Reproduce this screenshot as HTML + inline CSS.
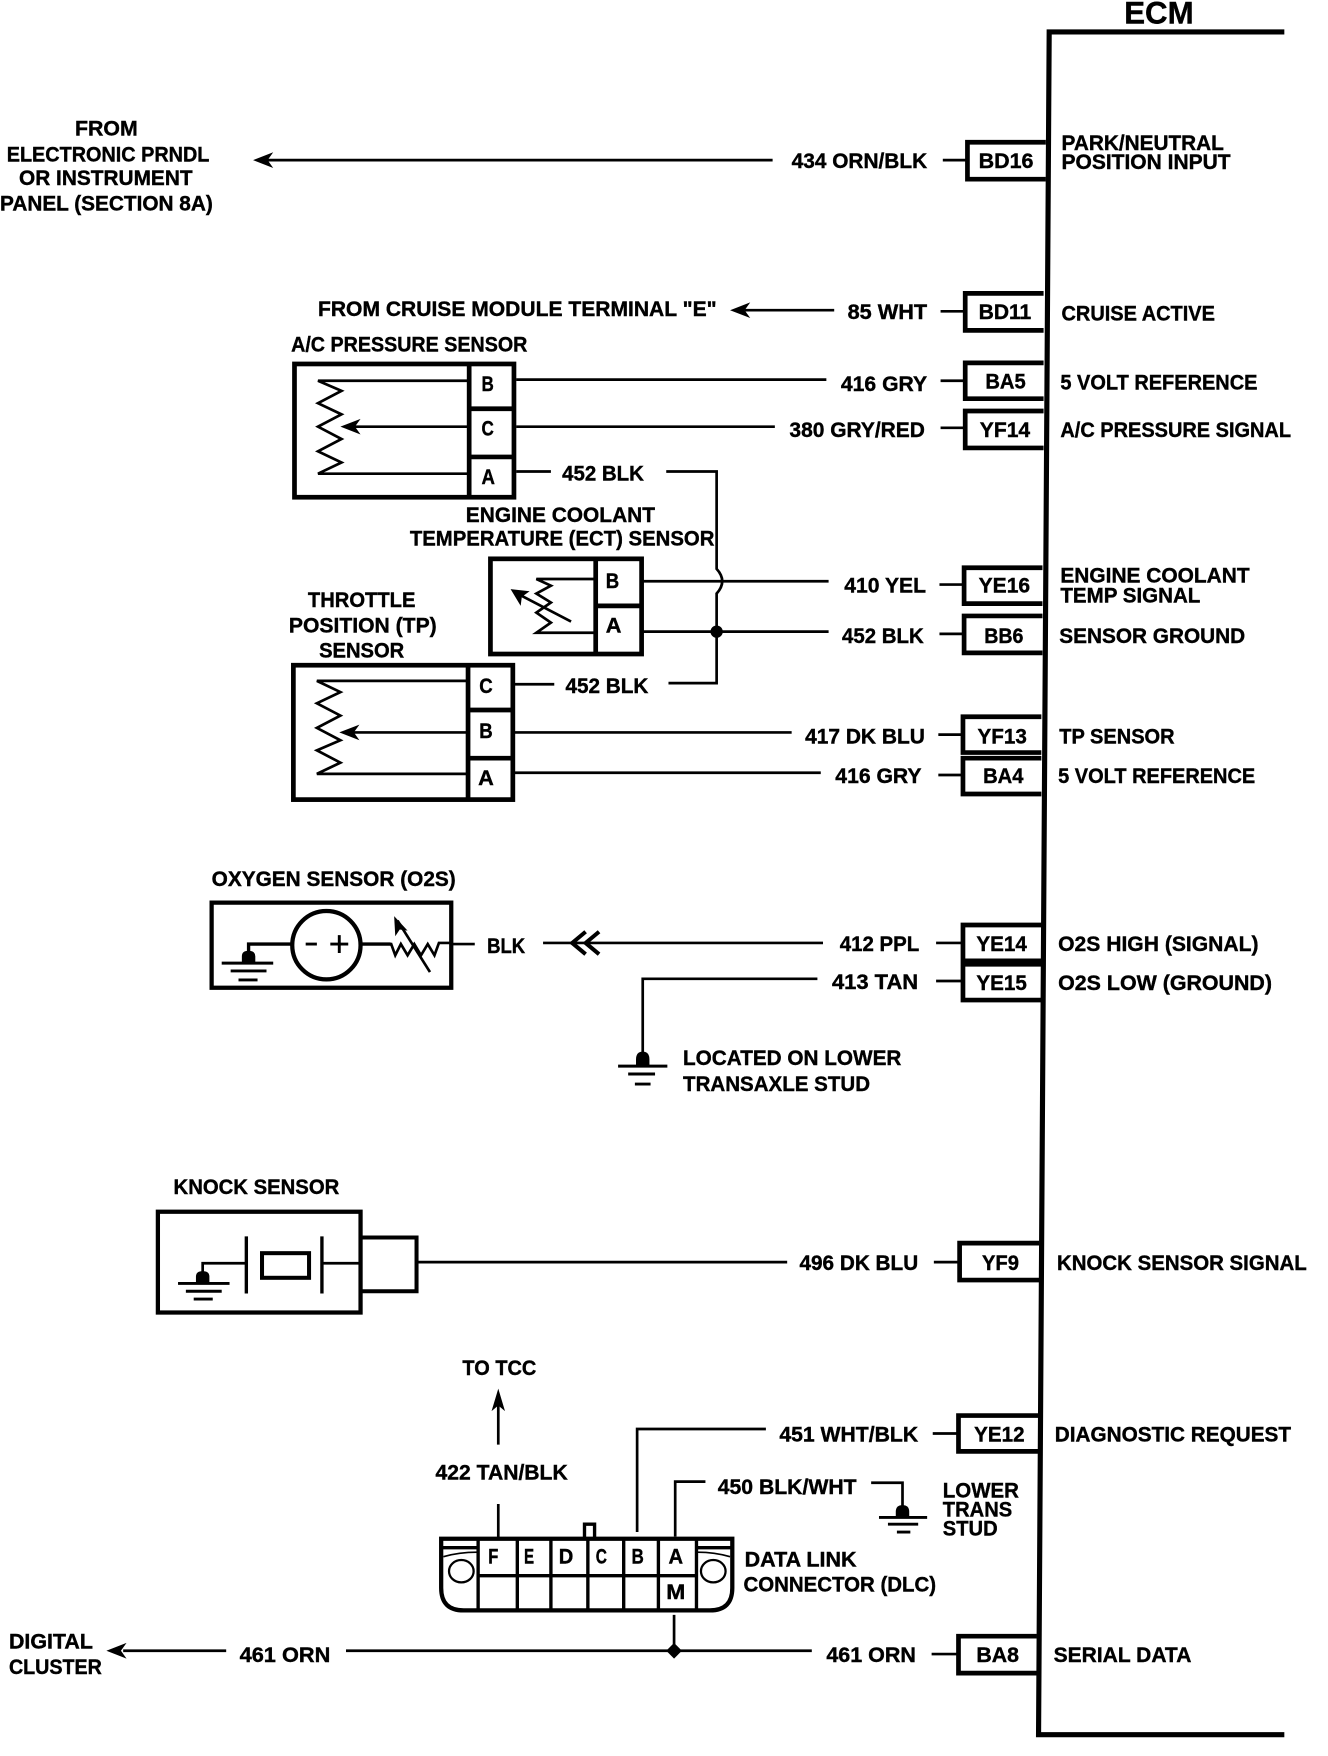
<!DOCTYPE html>
<html><head><meta charset="utf-8"><style>
html,body{margin:0;padding:0;background:#fff;width:1328px;height:1756px;overflow:hidden}
svg{display:block}
text{font-family:"Liberation Sans",sans-serif;font-weight:bold;font-size:18.7px;fill:#000;stroke:#000;stroke-width:.35px}
.w{fill:none;stroke:#000;stroke-width:2.4;stroke-linejoin:miter}
.t{fill:none;stroke:#000;stroke-width:3;stroke-linejoin:miter}
.b{fill:none;stroke:#000;stroke-width:4.2;stroke-linejoin:miter}
.k{fill:#000;stroke:none}
</style></head><body>
<svg width="1328" height="1756" viewBox="0 0 1186 1568" preserveAspectRatio="none" xmlns="http://www.w3.org/2000/svg">
<g>
<!-- ECM -->
<path class="b" d="M1147,28.500H937L927.500,1549H1147" style="stroke-width:4.6"/>
<text x="1004" y="21" textLength="62" lengthAdjust="spacingAndGlyphs" style="font-size:28px">ECM</text>

<!-- terminal boxes -->
<path class="b" d="M934,127H864V160H934M932,262H862V295H932M932,324H862V356H932M932,367H862V400H932M931,507H861V539H931M931,550H861V583H931M930,640H860V672H930M930,677H860V709H930M930,826H860V858H930M930,861H860V893H930M928,1110H857V1143H928M927,1264H856V1296H927M926,1461H856V1494H926"/>
<path class="w" d="M842,143H864M840,278H862M840,340H862M840,382H862M839,522H861M839,566H861M838,656H860M838,692H860M836,842H860M836,876H860M834,1127H857M833,1280H856M832,1477H856"/>

<!-- wires -->
<path class="w" d="M238,143H690M665,277H745M461,339H738M461,381H692M461,421H492M595,421H640V508Q650,519 640,530V610H597M573,519H740M573,564H740M459,611H495M459,654H707M459,690H733M404,843H424M485,842H735M730,874H574V943M372,1127H703M569,1368V1276H684M603,1372V1323H630M778,1324H806V1348M445,1373V1343M445,1290V1250M110,1474H202M309,1474H725M602,1442V1474"/>

<!-- arrowheads -->
<path class="k" d="M226,143L244,136L239,143L244,150ZM652,277L670,270L665,277L670,284ZM95,1474L113,1467L108,1474L113,1481ZM445,1240L451,1260L445,1255L439,1260Z"/>
<circle class="k" cx="640" cy="564" r="5.500"/>
<path class="k" d="M602,1467L609,1474L602,1481L595,1474Z"/>
<path d="M523,832L511,842L523,852M535,832L523,842L535,852" fill="none" stroke="#000" stroke-width="3.600"/>

<!-- A/C sensor -->
<rect class="b" x="263" y="325" width="196" height="119"/>
<path class="b" d="M419,325V444M419,365H459M419,408H459"/>
<path class="w" d="M419,340H284L305,349L284,360L305,370L284,381L305,392L284,403L305,413L284,423H419M419,381H312"/>
<path class="k" d="M304,381L322,374L317,381L322,388Z"/>

<!-- ECT sensor -->
<rect class="b" x="438" y="499" width="135" height="85"/>
<path class="b" d="M532,499V584M532,541H573"/>
<path class="w" d="M532,517H479L492,523L479,530L492,538L479,547L492,556L479,565H532M510,555L462,530"/>
<path class="k" d="M456,526L473,528L466,533L465,541Z"/>

<!-- TP sensor -->
<rect class="b" x="262" y="594" width="196" height="120"/>
<path class="b" d="M418,594V714M418,634H458M418,677H458"/>
<path class="w" d="M418,608H283L304,618L283,628L304,639L283,650L304,661L283,670L304,681L283,691H418M418,654H312"/>
<path class="k" d="M303,654L321,647L316,654L321,661Z"/>

<!-- O2S -->
<rect class="b" x="189" y="806" width="214" height="76" style="stroke-width:3.8"/>
<circle cx="291.500" cy="844" r="30.500" fill="none" stroke="#000" stroke-width="3.800"/>
<path class="w" d="M273,843H283M295,843H311M303,835V851" style="stroke-width:2.600"/>
<path class="t" d="M222,852V843H260M322,843H349"/>
<path class="w" d="M349,842L353,853L358,843L364,853L370,843L376,853L382,843L388,853L392,842H404"/>
<path class="w" d="M384,868L355,822"/>
<path class="k" d="M352,818L364,831L357,830L353,836ZM216,860V854Q216,849 222,849Q228,849 228,854V860Z"/>
<path class="w" d="M198,860H244M206,867H238M213,875H230" style="stroke-width:2.600"/>

<!-- lower ground -->
<path class="w" d="M552,952H596M561,959H585M567,968H581" style="stroke-width:2.600"/>
<path class="k" d="M568,952V946Q568,939 574,939Q580,939 580,946V952Z"/>
<path class="w" d="M785,1355H828M793,1361H820M801,1368H813" style="stroke-width:2.600"/>
<path class="k" d="M800,1355V1350Q800,1344 806,1344Q812,1344 812,1350V1355Z"/>

<!-- Knock sensor -->
<rect class="b" x="141" y="1082" width="181" height="90" style="stroke-width:3.800"/>
<path class="b" d="M322,1105H372V1153H322" style="stroke-width:3.600"/>
<path class="t" d="M220,1104V1155M287.500,1104V1155"/>
<rect x="234" y="1119" width="42" height="22" fill="none" stroke="#000" stroke-width="3.600"/>
<path class="w" d="M181,1137V1128H220M288,1128H322"/>
<path class="k" d="M175,1146V1140Q175,1135 181,1135Q187,1135 187,1140V1146Z"/>
<path class="w" d="M159,1146H205M166,1153H198M173,1160H190" style="stroke-width:2.600"/>

<!-- DLC -->
<path class="b" d="M394,1374H654V1418Q654,1438 634,1438H414Q394,1438 394,1418Z" style="stroke-width:3.800"/>
<path class="t" d="M427,1374V1438M462,1374V1438M492,1374V1438M525,1374V1438M557,1374V1438M588,1374V1438M622,1374V1438M427,1407H622"/>
<path d="M394,1382H427M622,1382H654" stroke="#000" stroke-width="3" fill="none"/>
<path d="M396,1390Q410,1386 426,1386M652,1390Q638,1386 623,1386" stroke="#000" stroke-width="1.500" fill="none"/>
<ellipse cx="412" cy="1403" rx="11" ry="10" fill="none" stroke="#000" stroke-width="2"/>
<ellipse cx="637" cy="1403" rx="11" ry="10" fill="none" stroke="#000" stroke-width="2"/>
<path class="t" d="M522,1374V1361H531V1374"/>

<!-- labels -->
<text x="67" y="121" textLength="56" lengthAdjust="spacingAndGlyphs">FROM</text>
<text x="6" y="144" textLength="181" lengthAdjust="spacingAndGlyphs">ELECTRONIC PRNDL</text>
<text x="17" y="165" textLength="155" lengthAdjust="spacingAndGlyphs">OR INSTRUMENT</text>
<text x="0" y="188" textLength="190" lengthAdjust="spacingAndGlyphs">PANEL (SECTION 8A)</text>
<text x="707" y="150" textLength="121" lengthAdjust="spacingAndGlyphs">434 ORN/BLK</text>
<text x="874" y="150" textLength="49" lengthAdjust="spacingAndGlyphs">BD16</text>
<text x="948" y="134" textLength="145" lengthAdjust="spacingAndGlyphs">PARK/NEUTRAL</text>
<text x="948" y="151" textLength="151" lengthAdjust="spacingAndGlyphs">POSITION INPUT</text>
<text x="284" y="282" textLength="356" lengthAdjust="spacingAndGlyphs">FROM CRUISE MODULE TERMINAL "E"</text>
<text x="757" y="285" textLength="71" lengthAdjust="spacingAndGlyphs">85 WHT</text>
<text x="874" y="285" textLength="47" lengthAdjust="spacingAndGlyphs">BD11</text>
<text x="948" y="286" textLength="137" lengthAdjust="spacingAndGlyphs">CRUISE ACTIVE</text>
<text x="260" y="314" textLength="211" lengthAdjust="spacingAndGlyphs">A/C PRESSURE SENSOR</text>
<text x="430" y="349" textLength="11" lengthAdjust="spacingAndGlyphs">B</text>
<text x="430" y="389" textLength="11" lengthAdjust="spacingAndGlyphs">C</text>
<text x="430" y="432" textLength="12" lengthAdjust="spacingAndGlyphs">A</text>
<text x="751" y="349" textLength="77" lengthAdjust="spacingAndGlyphs">416 GRY</text>
<text x="880" y="347" textLength="36" lengthAdjust="spacingAndGlyphs">BA5</text>
<text x="947" y="348" textLength="176" lengthAdjust="spacingAndGlyphs">5 VOLT REFERENCE</text>
<text x="705" y="390" textLength="121" lengthAdjust="spacingAndGlyphs">380 GRY/RED</text>
<text x="875" y="390" textLength="45" lengthAdjust="spacingAndGlyphs">YF14</text>
<text x="947" y="390" textLength="206" lengthAdjust="spacingAndGlyphs">A/C PRESSURE SIGNAL</text>
<text x="502" y="429" textLength="73" lengthAdjust="spacingAndGlyphs">452 BLK</text>
<text x="416" y="466" textLength="169" lengthAdjust="spacingAndGlyphs">ENGINE COOLANT</text>
<text x="366" y="487" textLength="272" lengthAdjust="spacingAndGlyphs">TEMPERATURE (ECT) SENSOR</text>
<text x="275" y="542" textLength="96" lengthAdjust="spacingAndGlyphs">THROTTLE</text>
<text x="258" y="565" textLength="132" lengthAdjust="spacingAndGlyphs">POSITION (TP)</text>
<text x="285" y="587" textLength="76" lengthAdjust="spacingAndGlyphs">SENSOR</text>
<text x="541" y="525" textLength="12" lengthAdjust="spacingAndGlyphs">B</text>
<text x="541" y="565" textLength="14" lengthAdjust="spacingAndGlyphs">A</text>
<text x="754" y="529" textLength="73" lengthAdjust="spacingAndGlyphs">410 YEL</text>
<text x="874" y="529" textLength="46" lengthAdjust="spacingAndGlyphs">YE16</text>
<text x="947" y="520" textLength="169" lengthAdjust="spacingAndGlyphs">ENGINE COOLANT</text>
<text x="947" y="538" textLength="125" lengthAdjust="spacingAndGlyphs">TEMP SIGNAL</text>
<text x="752" y="574" textLength="73" lengthAdjust="spacingAndGlyphs">452 BLK</text>
<text x="879" y="574" textLength="35" lengthAdjust="spacingAndGlyphs">BB6</text>
<text x="946" y="574" textLength="166" lengthAdjust="spacingAndGlyphs">SENSOR GROUND</text>
<text x="428" y="619" textLength="12" lengthAdjust="spacingAndGlyphs">C</text>
<text x="428" y="659" textLength="12" lengthAdjust="spacingAndGlyphs">B</text>
<text x="427" y="701" textLength="14" lengthAdjust="spacingAndGlyphs">A</text>
<text x="505" y="619" textLength="74" lengthAdjust="spacingAndGlyphs">452 BLK</text>
<text x="719" y="664" textLength="107" lengthAdjust="spacingAndGlyphs">417 DK BLU</text>
<text x="873" y="664" textLength="44" lengthAdjust="spacingAndGlyphs">YF13</text>
<text x="946" y="664" textLength="103" lengthAdjust="spacingAndGlyphs">TP SENSOR</text>
<text x="746" y="699" textLength="77" lengthAdjust="spacingAndGlyphs">416 GRY</text>
<text x="878" y="699" textLength="36" lengthAdjust="spacingAndGlyphs">BA4</text>
<text x="945" y="699" textLength="176" lengthAdjust="spacingAndGlyphs">5 VOLT REFERENCE</text>
<text x="189" y="791" textLength="218" lengthAdjust="spacingAndGlyphs">OXYGEN SENSOR (O2S)</text>
<text x="435" y="851" textLength="34" lengthAdjust="spacingAndGlyphs">BLK</text>
<text x="750" y="849" textLength="71" lengthAdjust="spacingAndGlyphs">412 PPL</text>
<text x="872" y="849" textLength="45" lengthAdjust="spacingAndGlyphs">YE14</text>
<text x="945" y="849" textLength="179" lengthAdjust="spacingAndGlyphs">O2S HIGH (SIGNAL)</text>
<text x="743" y="883" textLength="77" lengthAdjust="spacingAndGlyphs">413 TAN</text>
<text x="872" y="884" textLength="45" lengthAdjust="spacingAndGlyphs">YE15</text>
<text x="945" y="884" textLength="191" lengthAdjust="spacingAndGlyphs">O2S LOW (GROUND)</text>
<text x="610" y="951" textLength="195" lengthAdjust="spacingAndGlyphs">LOCATED ON LOWER</text>
<text x="610" y="974" textLength="167" lengthAdjust="spacingAndGlyphs">TRANSAXLE STUD</text>
<text x="155" y="1066" textLength="148" lengthAdjust="spacingAndGlyphs">KNOCK SENSOR</text>
<text x="714" y="1134" textLength="106" lengthAdjust="spacingAndGlyphs">496 DK BLU</text>
<text x="877" y="1134" textLength="33" lengthAdjust="spacingAndGlyphs">YF9</text>
<text x="944" y="1134" textLength="223" lengthAdjust="spacingAndGlyphs">KNOCK SENSOR SIGNAL</text>
<text x="413" y="1228" textLength="66" lengthAdjust="spacingAndGlyphs">TO TCC</text>
<text x="696" y="1287" textLength="124" lengthAdjust="spacingAndGlyphs">451 WHT/BLK</text>
<text x="870" y="1287" textLength="45" lengthAdjust="spacingAndGlyphs">YE12</text>
<text x="942" y="1287" textLength="211" lengthAdjust="spacingAndGlyphs">DIAGNOSTIC REQUEST</text>
<text x="641" y="1334" textLength="124" lengthAdjust="spacingAndGlyphs">450 BLK/WHT</text>
<text x="842" y="1337" textLength="68" lengthAdjust="spacingAndGlyphs">LOWER</text>
<text x="842" y="1354" textLength="62" lengthAdjust="spacingAndGlyphs">TRANS</text>
<text x="842" y="1371" textLength="49" lengthAdjust="spacingAndGlyphs">STUD</text>
<text x="389" y="1321" textLength="118" lengthAdjust="spacingAndGlyphs">422 TAN/BLK</text>
<text x="436" y="1396" textLength="9" lengthAdjust="spacingAndGlyphs">F</text>
<text x="468" y="1396" textLength="9" lengthAdjust="spacingAndGlyphs">E</text>
<text x="499" y="1396" textLength="13" lengthAdjust="spacingAndGlyphs">D</text>
<text x="532" y="1396" textLength="10" lengthAdjust="spacingAndGlyphs">C</text>
<text x="564" y="1396" textLength="11" lengthAdjust="spacingAndGlyphs">B</text>
<text x="597" y="1396" textLength="13" lengthAdjust="spacingAndGlyphs">A</text>
<text x="595" y="1428" textLength="17" lengthAdjust="spacingAndGlyphs">M</text>
<text x="665" y="1399" textLength="100" lengthAdjust="spacingAndGlyphs">DATA LINK</text>
<text x="664" y="1421" textLength="172" lengthAdjust="spacingAndGlyphs">CONNECTOR (DLC)</text>
<text x="8" y="1472" textLength="75" lengthAdjust="spacingAndGlyphs">DIGITAL</text>
<text x="8" y="1495" textLength="83" lengthAdjust="spacingAndGlyphs">CLUSTER</text>
<text x="214" y="1484" textLength="81" lengthAdjust="spacingAndGlyphs">461 ORN</text>
<text x="738" y="1484" textLength="80" lengthAdjust="spacingAndGlyphs">461 ORN</text>
<text x="872" y="1484" textLength="38" lengthAdjust="spacingAndGlyphs">BA8</text>
<text x="941" y="1484" textLength="123" lengthAdjust="spacingAndGlyphs">SERIAL DATA</text>
</g>
</svg>
</body></html>
